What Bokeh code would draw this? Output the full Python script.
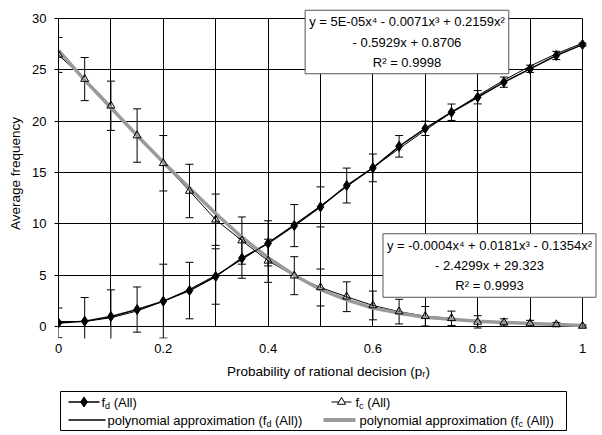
from bokeh.plotting import figure
from bokeh.models import FixedTicker, Label, Whisker, ColumnDataSource, Spacer, Range1d, TeeHead
from bokeh.layouts import column, row
from bokeh.embed import file_html
from bokeh.resources import INLINE
from bokeh.core.properties import value

# ---------------- data ----------------
pr = [0.0, 0.05, 0.1, 0.15, 0.2, 0.25, 0.3, 0.35, 0.4, 0.45, 0.5,
      0.55, 0.6, 0.65, 0.7, 0.75, 0.8, 0.85, 0.9, 0.95, 1.0]
fd = [0.35, 0.52, 0.97, 1.65, 2.47, 3.5, 4.87, 6.65, 8.1, 9.83, 11.65,
      13.73, 15.45, 17.55, 19.3, 20.87, 22.33, 23.8, 25.1, 26.4, 27.46]
fd_err = [1.45, 2.3, 2.6, 2.2, 3.6, 2.75, 2.7, 1.95, 2.2, 2.05, 1.95,
          1.7, 1.35, 1.05, 0.7, 0.8, 0.65, 0.5, 0.35, 0.4, 0.15]
fc = [26.45, 24.1, 21.5, 18.6, 15.9, 13.2, 10.4, 8.37, 6.4, 4.95, 3.8,
      2.9, 2.05, 1.45, 1.0, 0.8, 0.45, 0.4, 0.3, 0.2, 0.05]
fc_err = [1.7, 2.1, 2.4, 2.6, 2.7, 2.6, 2.5, 2.3, 2.1, 1.85, 1.8,
          1.45, 1.4, 1.2, 0.95, 0.7, 0.6, 0.35, 0.3, 0.2, 0.1]
fd_trend = [0.49, 0.49, 0.85, 1.51, 2.45, 3.62, 4.98, 6.52, 8.17, 9.93, 11.75,
            13.61, 15.48, 17.32, 19.12, 20.85, 22.48, 23.99, 25.36, 26.57, 27.6]
fc_trend = [26.9, 24.0, 21.3, 18.6, 16.0, 13.5, 11.0, 8.7, 6.7, 5.0, 3.6,
            2.6, 1.8, 1.3, 0.9, 0.7, 0.5, 0.4, 0.3, 0.2, 0.1]

x_ticks = [0, 0.2, 0.4, 0.6, 0.8, 1]
x_tick_labels = ["0", "0.2", "0.4", "0.6", "0.8", "1"]
x_minor = [0.1, 0.3, 0.5, 0.7, 0.9]
y_ticks = [0, 5, 10, 15, 20, 25, 30]

eq_fd = "y = 5E-05x\u2074 - 0.0071x\u00b3 + 0.2159x\u00b2\n- 0.5929x + 0.8706\nR\u00b2 = 0.9998"
eq_fc = "y = -0.0004x\u2074 + 0.0181x\u00b3 - 0.1354x\u00b2\n- 2.4299x + 29.323\nR\u00b2 = 0.9993"

FONT = "Liberation Sans"

# ---------------- main figure ----------------
# The frame is a little larger than the data box (0..1, 0..30) so that the
# equation boxes and the error bars can overhang it, as in the original.
PX_X, PX_Y = 524.0, 308.0 / 30.0       # pixels per data unit
FW, FH, DROP = 540, 330, 12            # DROP: frame room below y = 0
p = figure(frame_width=FW, frame_height=FH,
           x_range=Range1d(0, FW / PX_X),
           y_range=Range1d(-DROP / PX_Y, (FH - DROP) / PX_Y),
           output_backend="svg", toolbar_location=None,
           min_border_left=58, min_border_right=4, min_border_top=8,
           min_border_bottom=52,
           background_fill_color="white", border_fill_color="white",
           outline_line_color=None)

xt = FixedTicker(ticks=x_ticks, minor_ticks=x_minor)
yt = FixedTicker(ticks=y_ticks, minor_ticks=[])
p.xaxis.ticker = xt
p.yaxis.ticker = yt
p.xgrid.ticker = xt
p.ygrid.ticker = yt
p.xaxis.major_label_overrides = {t: s for t, s in zip(x_ticks, x_tick_labels)}
p.xaxis.bounds = (x_ticks[0], x_ticks[-1])
p.yaxis.bounds = (y_ticks[0], y_ticks[-1])

for g in (p.xgrid, p.ygrid):
    g.grid_line_color = "black"
    g.grid_line_width = 1
p.xgrid.minor_grid_line_color = "black"
p.xgrid.cross_bounds = (y_ticks[0], y_ticks[-1])
p.ygrid.cross_bounds = (x_ticks[0], x_ticks[-1])   # the line at y=0 is the x axis line

for ax in (p.xaxis, p.yaxis):
    ax.axis_line_color = "black"
    ax.major_tick_line_color = "black"
    ax.major_tick_out = 4
    ax.major_tick_in = 0
    ax.minor_tick_line_color = None
    ax.major_label_text_font = FONT
    ax.major_label_text_font_size = "13px"
    ax.major_label_text_color = "black"
    ax.axis_label_text_font = FONT
    ax.axis_label_text_font_size = "13.5px"
    ax.axis_label_text_font_style = "normal"
    ax.axis_label_text_color = "black"

# bottom axis sits at the lower frame edge (DROP px under y=0): no line / ticks there
p.xaxis.axis_line_color = None
p.xaxis.major_tick_line_color = None
p.xaxis.major_tick_out = 0
p.xaxis.major_label_standoff = 1
p.xaxis.axis_label_standoff = 8
p.yaxis.major_label_standoff = 8
p.yaxis.axis_label_standoff = 6
p.xaxis.axis_label = "Probability of rational decision (p\u1d63)"
p.yaxis.axis_label = "Average frequency"

src = ColumnDataSource(dict(
    x=pr, fd=fd, fc=fc, fd_t=fd_trend, fc_t=fc_trend,
    fd_lo=[v - e for v, e in zip(fd, fd_err)], fd_hi=[v + e for v, e in zip(fd, fd_err)],
    fc_lo=[v - e for v, e in zip(fc, fc_err)], fc_hi=[v + e for v, e in zip(fc, fc_err)],
))

for lo, hi in (("fc_lo", "fc_hi"), ("fd_lo", "fd_hi")):
    w = Whisker(base="x", lower=lo, upper=hi, source=src,
                line_color="black", line_width=1,
                upper_head=TeeHead(size=8, line_color="black", line_width=1),
                lower_head=TeeHead(size=8, line_color="black", line_width=1))
    p.add_layout(w)

p.line("x", "fc", source=src, line_color="black", line_width=1)
p.line("x", "fd", source=src, line_color="black", line_width=1.5)
p.line("x", "fc_t", source=src, line_color="#9a9a9a", line_width=3.5)
p.line("x", "fd_t", source=src, line_color="black", line_width=1)
p.scatter("x", "fc", source=src, marker="triangle", size=8,
          fill_color="white", fill_alpha=0.0, line_color="black", line_width=1)
p.scatter("x", "fd", source=src, marker="diamond", size=10,
          fill_color="black", line_color="black")

for txt, xx, yy in ((eq_fd, 0.665, 27.71), (eq_fc, 0.8225, 5.94)):
    p.add_layout(Label(x=xx, y=yy, text=txt, text_align="center", text_baseline="middle",
                       text_font=FONT, text_font_size="13px", text_color="black",
                       text_line_height=1.35, padding=4,
                       background_fill_color="white", border_line_color="#555555",
                       border_line_width=1))

# ---------------- legend figure ----------------
LW, LH, LX = 506, 39, 59
lg = figure(frame_width=LW, frame_height=LH, x_range=Range1d(0, LW), y_range=Range1d(0, LH),
            x_axis_type=None, y_axis_type=None, output_backend="svg", toolbar_location=None,
            min_border=1, outline_line_color="black", outline_line_width=1,
            background_fill_color="white", border_fill_color="white")
lg.grid.visible = False

r1, r2 = 28.5, 10.5
C1, C2 = 2, 263
# fd series sample
lg.line([C1 + 6, C1 + 37], [r1, r1], line_color="black", line_width=1.5)
lg.scatter([C1 + 21.5], [r1], marker="diamond", size=10, fill_color="black", line_color="black")
# fd trend sample
lg.line([C1 + 6, C1 + 43], [r2, r2], line_color="black", line_width=1.5)
# fc series sample
lg.line([C2 + 8, C2 + 28], [r1, r1], line_color="black", line_width=1)
lg.scatter([C2 + 18], [r1], marker="triangle", size=8, fill_color="white", line_color="black")
# fc trend sample
lg.line([C2, C2 + 32], [r2, r2], line_color="#9a9a9a", line_width=4)

fs = value("13px")
ss = value("9px")
tf = value(FONT)
main_txt = dict(x=[C1 + 39, C1 + 45, C2 + 32, C2 + 36],
                y=[r1, r2, r1, r2],
                text=["f", "polynomial approximation (f", "f", "polynomial approximation (f"])
sub_txt = dict(x=[C1 + 42.6, C1 + 203.9, C2 + 35.6, C2 + 194.9],
               y=[r1 - 3.5, r2 - 3.5, r1 - 3.5, r2 - 3.5],
               text=["d", "d", "c", "c"])
tail_txt = dict(x=[C1 + 51.2, C1 + 212.5, C2 + 43.7, C2 + 203.0],
                y=[r1, r2, r1, r2],
                text=["(All)", "(All))", "(All)", "(All))"])
for d, size in ((main_txt, fs), (sub_txt, ss), (tail_txt, fs)):
    lg.text(x=d["x"], y=d["y"], text=d["text"], text_font=tf, text_font_size=size,
            text_baseline="middle", text_align="left", text_color="black")

layout = column(p, row(Spacer(width=LX), lg))
open("out.html", "w").write(file_html(layout, INLINE))
